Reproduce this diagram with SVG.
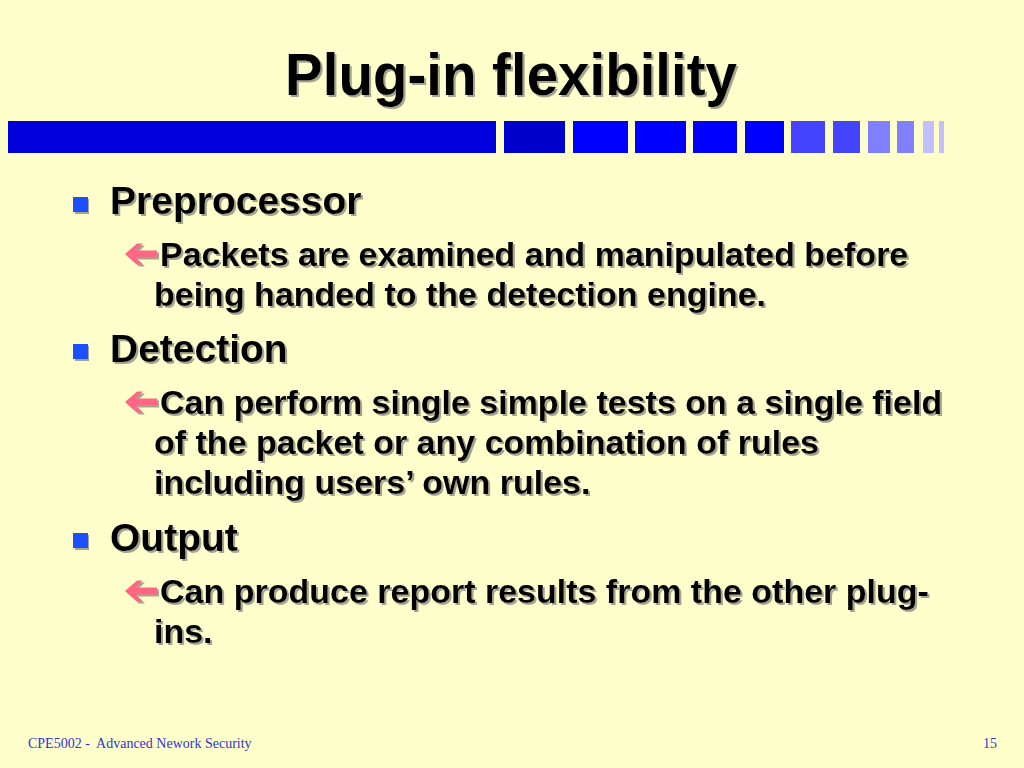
<svg xmlns="http://www.w3.org/2000/svg" width="1024" height="768" viewBox="0 0 1024 768">
<defs>
<style>
.t{font-family:"Liberation Sans",Arial,sans-serif;font-weight:bold;fill:#000}
.title{font-size:60px}
.l1{font-size:39px}
.l2{font-size:34px}
.foot{font-family:"Liberation Serif","Times New Roman",serif;font-size:14px;fill:#3333cc}
.sq{fill:#1f50ff}
.arr{fill:#ff6684}
</style>
<filter id="sh" x="-5%" y="-20%" width="110%" height="140%">
<feDropShadow dx="2" dy="2" stdDeviation="0.6" flood-color="#9a9a88" flood-opacity="0.9"/>
</filter>
<path id="arrow" d="M0,0 L12,-10.5 L18,-10.5 L10.5,-3.6 L32,-3.6 L32,3.6 L10.5,3.6 L18,10.5 L12,10.5 Z"/>
</defs>
<rect width="1024" height="768" fill="#ffffcc"/>

<g id="title">
<text class="t title" x="285" y="95" textLength="452" lengthAdjust="spacingAndGlyphs" filter="url(#sh)">Plug-in flexibility</text>
</g>

<g id="bar">
<rect x="8" y="121" width="488" height="32" fill="#0000dd"/>
<rect x="504" y="121" width="61" height="32" fill="#0000cc"/>
<rect x="573" y="121" width="55" height="32" fill="#0000ff"/>
<rect x="635" y="121" width="51" height="32" fill="#0000ff"/>
<rect x="693" y="121" width="44" height="32" fill="#0000ff"/>
<rect x="745" y="121" width="39" height="32" fill="#0000ff"/>
<rect x="791" y="121" width="34" height="32" fill="#4444ff"/>
<rect x="833" y="121" width="27" height="32" fill="#4444ff"/>
<rect x="868" y="121" width="22" height="32" fill="#8080ff"/>
<rect x="897" y="121" width="17" height="32" fill="#8080ff"/>
<rect x="923" y="121" width="11" height="32" fill="#c0c0ff"/>
<rect x="939" y="121" width="5" height="32" fill="#c0c0ff"/>
</g>

<g id="preprocessor">
<rect class="sq" x="73" y="197" width="15" height="15" filter="url(#sh)"/>
<text class="t l1" x="110" y="214" filter="url(#sh)">Preprocessor</text>
<use href="#arrow" class="arr" x="125" y="254" filter="url(#sh)"/>
<text class="t l2" x="160" y="266" filter="url(#sh)">Packets are examined and manipulated before</text>
<text class="t l2" x="154" y="306" filter="url(#sh)">being handed to the detection engine.</text>
</g>

<g id="detection">
<rect class="sq" x="73" y="344" width="15" height="15" filter="url(#sh)"/>
<text class="t l1" x="110" y="362" filter="url(#sh)">Detection</text>
<use href="#arrow" class="arr" x="125" y="402" filter="url(#sh)"/>
<text class="t l2" x="160" y="414" filter="url(#sh)">Can perform single simple tests on a single field</text>
<text class="t l2" x="154" y="454" filter="url(#sh)">of the packet or any combination of rules</text>
<text class="t l2" x="154" y="494" filter="url(#sh)">including users’ own rules.</text>
</g>

<g id="output">
<rect class="sq" x="73" y="533" width="15" height="15" filter="url(#sh)"/>
<text class="t l1" x="110" y="551" filter="url(#sh)">Output</text>
<use href="#arrow" class="arr" x="125" y="591" filter="url(#sh)"/>
<text class="t l2" x="160" y="603" filter="url(#sh)">Can produce report results from the other plug-</text>
<text class="t l2" x="154" y="643" filter="url(#sh)">ins.</text>
</g>

<g id="connectors"></g>

<g id="footer">
<text class="foot" x="28" y="748" xml:space="preserve">CPE5002 -  Advanced Nework Security</text>
<text class="foot" x="997" y="748" text-anchor="end">15</text>
</g>
</svg>
